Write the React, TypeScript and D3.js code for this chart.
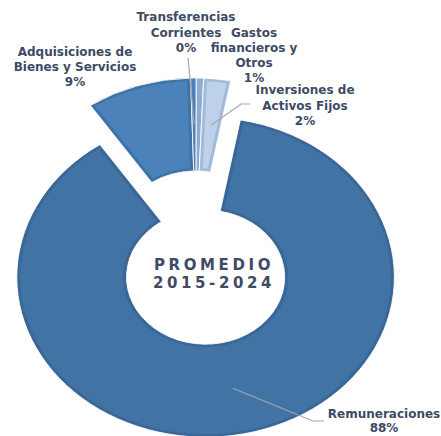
import React from 'react'
import * as d3 from 'd3'

// categories in drawing order (clockwise from the top-right), values in %
const categories = ['Remuneraciones', 'Adquisiciones de Bienes y Servicios', 'Transferencias Corrientes', 'Gastos financieros y Otros', 'Inversiones de Activos Fijos']
const values = [87.6, 9.0, 0.48, 0.62, 2.3]
const pctLabels = ['88%', '9%', '0%', '1%', '2%']
const labelLines = [
  ['Remuneraciones'],
  ['Adquisiciones de', 'Bienes y Servicios'],
  ['Transferencias', 'Corrientes'],
  ['Gastos', 'financieros y', 'Otros'],
  ['Inversiones de', 'Activos Fijos'],
]
const centerText = ['PROMEDIO', '2015-2024']

const fills = ['#4174a4', '#4b82b9', '#5489c3', '#9cb7da', '#bdd1ea']
const borders = ['#3a6797', '#3f72a7', '#4a7fbb', '#8eabd2', '#a3bad9']
const explode = [40, 0, 0, 0, 0]
// label anchor (x, first baseline), line gap and leader points next to the label
const labelPos: [number, number][] = [[384, 418], [75, 55.5], [186, 21], [254, 37], [305, 94]]
const labelGap = [13.5, 15, 15.7, 15, 15.5]
const leaderFrom: ([number, number][] | null)[] = [
  [[324, 421], [313, 421]],
  null,
  [[188, 58]],
  null,
  [[250, 104], [241, 104]],
]

const W = 441, H = 436
const cx = 196, cy = 238, sx = 1.18
const R = 160, r0 = 67, border = 3
const textColor = '#3d4b64'

const App = () => {
  const start = (10.6 / 180) * Math.PI
  const pie = d3.pie<number>().sort(null).startAngle(start).endAngle(start + 2 * Math.PI)
  const arcs = pie(values)
  const arcOuter = d3.arc<d3.PieArcDatum<number>>().innerRadius(r0).outerRadius(R)
  const arcInner = d3.arc<d3.PieArcDatum<number>>()
    .innerRadius(r0 + border).outerRadius(R - border)
    .padRadius(100).padAngle((2 * border) / 100)

  const offset = (i: number) => {
    const a = (arcs[i].startAngle + arcs[i].endAngle) / 2
    return [explode[i] * Math.sin(a), -explode[i] * Math.cos(a)]
  }
  const toScreen = (p: [number, number]) => [cx + sx * p[0], cy + p[1]]

  return (
    <svg width={W} height={H} style={{position: 'absolute', left: 0, top: 0}}
      fontFamily="'DejaVu Sans', sans-serif" fontWeight="bold">
      <g transform={`translate(${cx},${cy}) scale(${sx},1)`}>
        {arcs.map((d, i) => {
          const [ox, oy] = offset(i)
          return (
            <g key={i} transform={`translate(${ox},${oy})`}>
              <path d={arcOuter(d) || ''} fill={borders[i]} stroke="#fff" strokeWidth={0.8} />
              <path d={arcInner(d) || ''} fill={fills[i]} />
            </g>
          )
        })}
      </g>
      {arcs.map((d, i) => {
        const from = leaderFrom[i]
        if (!from) return null
        const [ox, oy] = offset(i)
        const c = arcOuter.centroid(d)
        const end = toScreen([c[0] + ox, c[1] + oy])
        const pts = [...from, end]
        return <polyline key={i} points={pts.map(p => p.join(',')).join(' ')} fill="none" stroke="#a6a6a6" strokeWidth={1.2} />
      })}
      {categories.map((c, i) => {
        const [x, y] = labelPos[i]
        const lines = [...labelLines[i], pctLabels[i]]
        return (
          <text key={c} x={x} y={y} textAnchor="middle" fontSize={12} fill={textColor}>
            {lines.map((t, j) => <tspan key={j} x={x} dy={j === 0 ? 0 : labelGap[i]}>{t}</tspan>)}
          </text>
        )
      })}
      <text x={214} y={270} textAnchor="middle" fontSize={15} letterSpacing={3.6} fill={textColor}>
        <tspan x={214} dy={0}>{centerText[0]}</tspan>
        <tspan x={214} dy={17.5}>{centerText[1]}</tspan>
      </text>
    </svg>
  )
}

export default App
